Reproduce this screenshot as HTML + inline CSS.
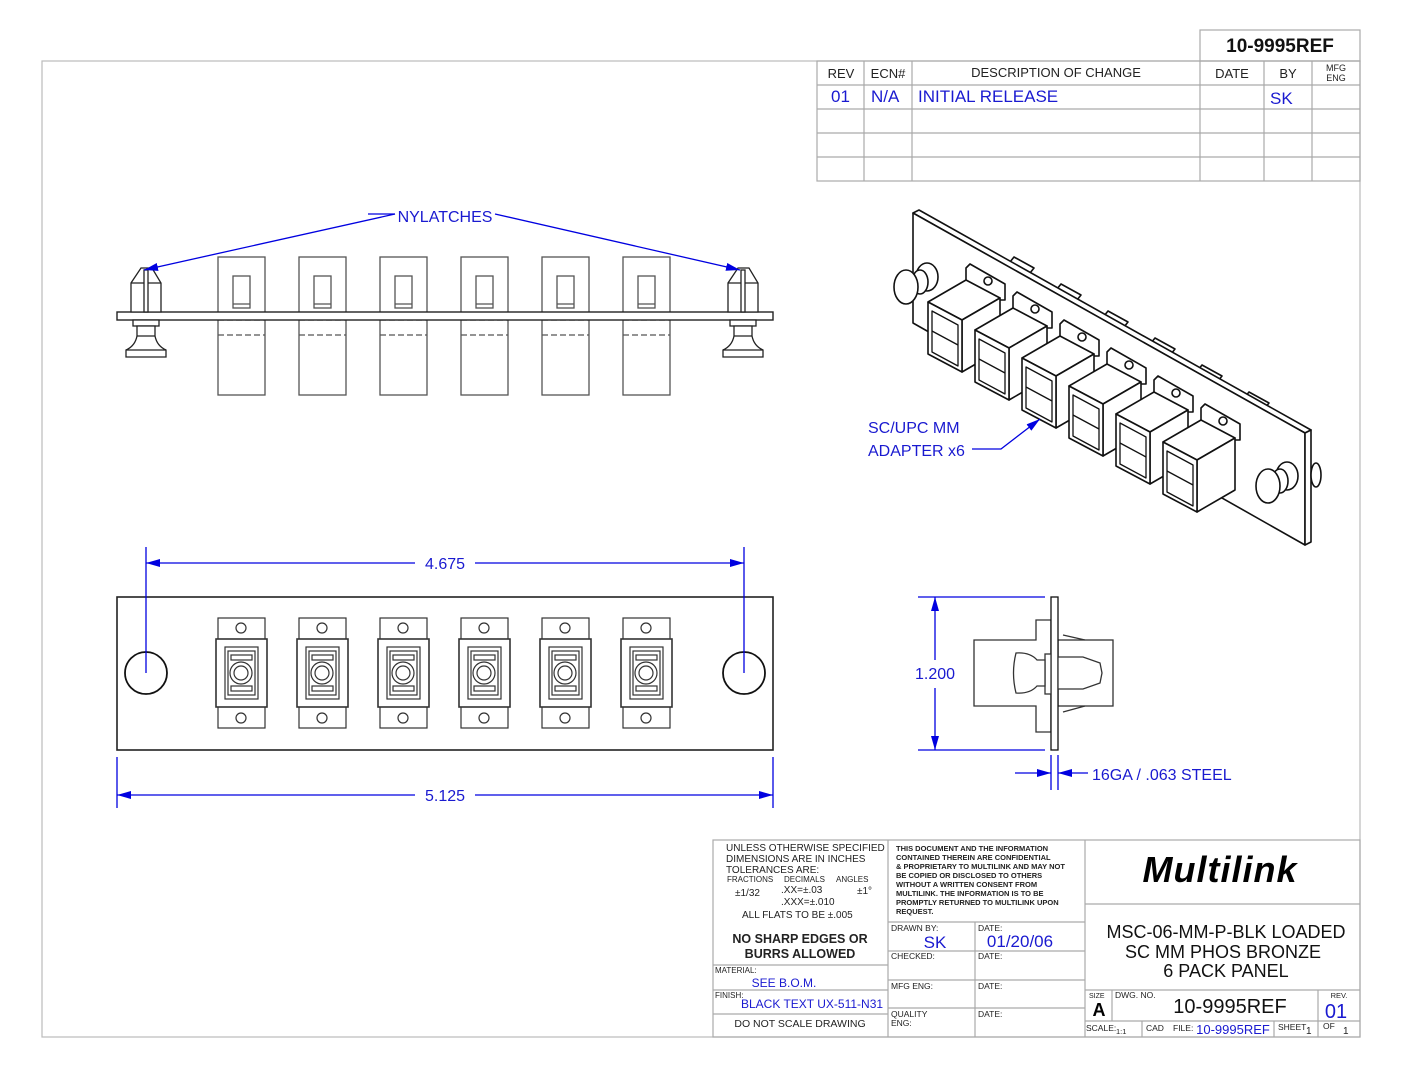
<!DOCTYPE html>
<html><head><meta charset="utf-8"><style>
html,body{margin:0;padding:0;background:#fff}
svg{display:block}
text{font-family:"Liberation Sans",sans-serif}
</style></head><body>
<svg width="1408" height="1088" viewBox="0 0 1408 1088" xmlns="http://www.w3.org/2000/svg">
<defs>
<marker id="ah" markerWidth="14" markerHeight="8" refX="14" refY="4" orient="auto" markerUnits="userSpaceOnUse"><path d="M0,0 L14,4 L0,8 z" fill="#0000e0"/></marker>
<g id="latch" fill="#fff" stroke="#222" stroke-width="1.3">
<path d="M141,268 L152,268 L161,283 L161,312 L131,312 L131,283 Z"/>
<line x1="131" y1="283" x2="161" y2="283"/>
<rect x="144" y="270" width="4" height="42"/>
<rect x="133" y="320" width="26" height="6"/>
<path d="M137,326 L155,326 L155,336 Q157,346 166,350 L166,357 L126,357 L126,350 Q135,346 137,336 Z"/>
<line x1="137" y1="336" x2="155" y2="336"/>
<line x1="126" y1="350" x2="166" y2="350"/>
</g>
<g id="topad" fill="none" stroke="#555" stroke-width="1.3">
<rect x="218" y="257" width="47" height="138"/>
<rect x="233" y="276" width="17" height="32"/>
<line x1="233" y1="304" x2="250" y2="304"/>
<line x1="218" y1="335" x2="265" y2="335" stroke-dasharray="6,3"/>
<line x1="218" y1="320" x2="265" y2="320" stroke-dasharray="6,3"/>
</g>
<g id="frad" fill="#fff" stroke="#333" stroke-width="1.2">
<rect x="218" y="618" width="47" height="110"/>
<rect x="216" y="639" width="51" height="68" stroke-width="1.6"/>
<rect x="225" y="647" width="33" height="52"/>
<rect x="228" y="651" width="27" height="44"/>
<rect x="231" y="655" width="21" height="5"/>
<rect x="231" y="686" width="21" height="5"/>
<circle cx="241" cy="673" r="11"/>
<circle cx="241" cy="673" r="7"/>
<circle cx="241" cy="628" r="5"/>
<circle cx="241" cy="718" r="5"/>
</g>
<g id="iso" fill="#fff" stroke="#111" stroke-width="1.6" stroke-linejoin="round">
<path d="M966,282 L966,268 L970,264 L1005,284 L1005,300 L1000,300 Z"/>
<circle cx="988" cy="281" r="4"/>
<path d="M928,302 L962,320 L1000,298 L966,280 Z"/>
<path d="M962,320 L1000,298 L1000,350 L962,372 Z"/>
<path d="M928,302 L962,320 L962,372 L928,354 Z"/>
<path d="M932,311 L958,325 L958,366 L932,352 Z" stroke-width="1.3"/>
<line x1="932" y1="331" x2="958" y2="345" stroke-width="1.3"/>
</g>
</defs>

<rect x="42" y="61" width="1318" height="976" fill="none" stroke="#bbb" stroke-width="1.2"/>

<g stroke="#aaa" stroke-width="1.2" fill="none">
<rect x="1200" y="30" width="160" height="31"/>
<rect x="817" y="61" width="543" height="120"/>
<line x1="817" y1="85" x2="1360" y2="85"/>
<line x1="817" y1="109" x2="1360" y2="109"/>
<line x1="817" y1="133" x2="1360" y2="133"/>
<line x1="817" y1="157" x2="1360" y2="157"/>
<line x1="864" y1="61" x2="864" y2="181"/>
<line x1="912" y1="61" x2="912" y2="181"/>
<line x1="1200" y1="61" x2="1200" y2="181"/>
<line x1="1264" y1="61" x2="1264" y2="181"/>
<line x1="1312" y1="61" x2="1312" y2="181"/>
</g>
<text x="1280" y="52" font-size="19" font-weight="bold" text-anchor="middle" fill="#111">10-9995REF</text>
<g font-size="13" fill="#222" text-anchor="middle">
<text x="841" y="78">REV</text><text x="888" y="78">ECN#</text>
<text x="1056" y="77">DESCRIPTION OF CHANGE</text>
<text x="1232" y="78">DATE</text><text x="1288" y="78">BY</text>
<text x="1336" y="71" font-size="9">MFG</text><text x="1336" y="81" font-size="9">ENG</text>
</g>
<g font-size="17" fill="#1a1ad0">
<text x="831" y="102">01</text><text x="871" y="102">N/A</text>
<text x="918" y="102">INITIAL RELEASE</text><text x="1270" y="104">SK</text>
</g>

<use href="#topad"/><use href="#topad" x="81"/><use href="#topad" x="162"/>
<use href="#topad" x="243"/><use href="#topad" x="324"/><use href="#topad" x="405"/>
<rect x="117" y="312" width="656" height="8" fill="#fff" stroke="#222" stroke-width="1.4"/>
<use href="#latch"/><use href="#latch" x="597"/>
<line x1="395" y1="214" x2="144" y2="270" stroke="#0000e0" stroke-width="1.3" marker-end="url(#ah)"/>
<line x1="495" y1="214" x2="740" y2="270" stroke="#0000e0" stroke-width="1.3" marker-end="url(#ah)"/>
<line x1="368" y1="214" x2="395" y2="214" stroke="#0000e0" stroke-width="1.3"/>
<text x="445" y="222" font-size="16" fill="#1a1ad0" text-anchor="middle">NYLATCHES</text>

<rect x="117" y="597" width="656" height="153" fill="#fff" stroke="#222" stroke-width="1.6"/>
<circle cx="146" cy="673" r="21" fill="#fff" stroke="#111" stroke-width="1.8"/>
<circle cx="744" cy="673" r="21" fill="#fff" stroke="#111" stroke-width="1.8"/>
<use href="#frad"/><use href="#frad" x="81"/><use href="#frad" x="162"/>
<use href="#frad" x="243"/><use href="#frad" x="324"/><use href="#frad" x="405"/>
<g stroke="#0000e0" stroke-width="1.3" fill="none">
<line x1="146" y1="547" x2="146" y2="673"/><line x1="744" y1="547" x2="744" y2="673"/>
<line x1="415" y1="563" x2="146" y2="563" marker-end="url(#ah)"/>
<line x1="475" y1="563" x2="744" y2="563" marker-end="url(#ah)"/>
<line x1="117" y1="757" x2="117" y2="808"/><line x1="773" y1="757" x2="773" y2="808"/>
<line x1="415" y1="795" x2="117" y2="795" marker-end="url(#ah)"/>
<line x1="475" y1="795" x2="773" y2="795" marker-end="url(#ah)"/>
</g>
<text x="445" y="569" font-size="16" fill="#1a1ad0" text-anchor="middle">4.675</text>
<text x="445" y="801" font-size="16" fill="#1a1ad0" text-anchor="middle">5.125</text>

<g fill="#fff" stroke="#333" stroke-width="1.3">
<path d="M974,640 L1036,640 L1036,620 L1051,620 L1051,732 L1036,732 L1036,706 L974,706 Z"/>
<rect x="1058" y="640" width="55" height="66"/>
<rect x="1051" y="597" width="7" height="153" stroke="#111"/>
<rect x="1045" y="654" width="6" height="40"/>
<path d="M1045,660 L1037,660 Q1030,652 1016,653 Q1011,673 1016,693 Q1030,694 1037,686 L1045,686 Z"/>
<path d="M1058,657 L1083,657 L1100,663 L1102,673 L1100,683 L1083,689 L1058,689 Z"/>
<path d="M1063,635 L1085,640 M1063,712 L1085,706" fill="none"/>
</g>
<g stroke="#0000e0" stroke-width="1.3" fill="none">
<line x1="918" y1="597" x2="1045" y2="597"/><line x1="918" y1="750" x2="1045" y2="750"/>
<line x1="935" y1="660" x2="935" y2="597" marker-end="url(#ah)"/>
<line x1="935" y1="688" x2="935" y2="750" marker-end="url(#ah)"/>
<line x1="1051" y1="755" x2="1051" y2="790"/><line x1="1058" y1="755" x2="1058" y2="790"/>
<line x1="1015" y1="773" x2="1051" y2="773" marker-end="url(#ah)"/>
<line x1="1088" y1="773" x2="1058" y2="773" marker-end="url(#ah)"/>
</g>
<text x="935" y="679" font-size="16" fill="#1a1ad0" text-anchor="middle">1.200</text>
<text x="1092" y="780" font-size="16" fill="#1a1ad0">16GA / .063 STEEL</text>

<g fill="#fff" stroke="#111" stroke-width="1.6" stroke-linejoin="round">
<path d="M1010,262 L1030,273 L1034,268 L1014,257 Z"/>
<path d="M1057,289 L1077,300 L1081,295 L1061,284 Z"/>
<path d="M1104,316 L1124,327 L1128,322 L1108,311 Z"/>
<path d="M1151,343 L1171,354 L1175,349 L1155,338 Z"/>
<path d="M1198,370 L1218,381 L1222,376 L1202,365 Z"/>
<path d="M1245,397 L1265,408 L1269,403 L1249,392 Z"/>
<path d="M913,213 L919,210 L1311,430 L1305,433 Z"/>
<path d="M913,213 L1305,433 L1305,545 L913,323 Z"/>
<path d="M1305,433 L1311,430 L1311,542 L1305,545 Z"/>
<ellipse cx="927" cy="277" rx="11" ry="14"/>
<ellipse cx="920" cy="282" rx="8" ry="12"/>
<ellipse cx="906" cy="287" rx="12" ry="17"/>
<ellipse cx="1316" cy="475" rx="5" ry="12"/>
<ellipse cx="1287" cy="476" rx="11" ry="14"/>
<ellipse cx="1280" cy="481" rx="8" ry="12"/>
<ellipse cx="1268" cy="486" rx="12" ry="17"/>
</g>
<use href="#iso"/><use href="#iso" x="47" y="28"/><use href="#iso" x="94" y="56"/>
<use href="#iso" x="141" y="84"/><use href="#iso" x="188" y="112"/><use href="#iso" x="235" y="140"/>
<polyline points="972,449 1001,449 1040,419" fill="none" stroke="#0000e0" stroke-width="1.3" marker-end="url(#ah)"/>
<text x="868" y="433" font-size="16" fill="#1a1ad0">SC/UPC MM</text>
<text x="868" y="456" font-size="16" fill="#1a1ad0">ADAPTER x6</text>

<g stroke="#aaa" stroke-width="1.2" fill="none">
<rect x="713" y="840" width="647" height="197"/>
<line x1="888" y1="840" x2="888" y2="1037"/>
<line x1="1085" y1="840" x2="1085" y2="1037"/>
<line x1="713" y1="965" x2="888" y2="965"/>
<line x1="713" y1="990" x2="888" y2="990"/>
<line x1="713" y1="1014" x2="888" y2="1014"/>
<line x1="888" y1="922" x2="1085" y2="922"/>
<line x1="888" y1="951" x2="1085" y2="951"/>
<line x1="888" y1="980" x2="1085" y2="980"/>
<line x1="888" y1="1008" x2="1085" y2="1008"/>
<line x1="975" y1="922" x2="975" y2="1037"/>
<line x1="1085" y1="904" x2="1360" y2="904"/>
<line x1="1085" y1="990" x2="1360" y2="990"/>
<line x1="1085" y1="1021" x2="1360" y2="1021"/>
<line x1="1112" y1="990" x2="1112" y2="1021"/>
<line x1="1318" y1="990" x2="1318" y2="1037"/>
<line x1="1142" y1="1021" x2="1142" y2="1037"/>
<line x1="1274" y1="1021" x2="1274" y2="1037"/>
</g>
<g font-size="10" fill="#222">
<text x="726" y="851">UNLESS OTHERWISE SPECIFIED</text>
<text x="726" y="862">DIMENSIONS ARE IN INCHES</text>
<text x="726" y="873">TOLERANCES ARE:</text>
<text x="727" y="882" font-size="8">FRACTIONS</text><text x="784" y="882" font-size="8">DECIMALS</text><text x="836" y="882" font-size="8">ANGLES</text>
<text x="735" y="896">±1/32</text><text x="781" y="893">.XX=±.03</text><text x="781" y="905">.XXX=±.010</text><text x="857" y="894">±1°</text>
<text x="742" y="918">ALL FLATS TO BE ±.005</text>
<text x="800" y="943" font-size="12.5" font-weight="bold" text-anchor="middle">NO SHARP EDGES OR</text>
<text x="800" y="958" font-size="12.5" font-weight="bold" text-anchor="middle">BURRS ALLOWED</text>
<text x="715" y="973" font-size="8">MATERIAL:</text>
<text x="715" y="998" font-size="8">FINISH:</text>
<text x="800" y="1027" text-anchor="middle" font-size="10.5">DO NOT SCALE DRAWING</text>
<g font-size="7.5" font-weight="bold">
<text x="896" y="851">THIS DOCUMENT AND THE INFORMATION</text>
<text x="896" y="860">CONTAINED THEREIN ARE CONFIDENTIAL</text>
<text x="896" y="869">&amp; PROPRIETARY TO MULTILINK AND MAY NOT</text>
<text x="896" y="878">BE COPIED OR DISCLOSED TO OTHERS</text>
<text x="896" y="887">WITHOUT A WRITTEN CONSENT FROM</text>
<text x="896" y="896">MULTILINK. THE INFORMATION IS TO BE</text>
<text x="896" y="905">PROMPTLY RETURNED TO MULTILINK UPON</text>
<text x="896" y="914">REQUEST.</text>
</g>
<g font-size="8.5">
<text x="891" y="931">DRAWN BY:</text><text x="978" y="931">DATE:</text>
<text x="891" y="959">CHECKED:</text><text x="978" y="959">DATE:</text>
<text x="891" y="989">MFG ENG:</text><text x="978" y="989">DATE:</text>
<text x="891" y="1017">QUALITY</text><text x="891" y="1026">ENG:</text><text x="978" y="1017">DATE:</text>
<text x="1089" y="998" font-size="7">SIZE</text><text x="1115" y="998">DWG. NO.</text>
<text x="1339" y="998" font-size="7.5" text-anchor="middle">REV.</text>
<text x="1086" y="1031">SCALE:</text><text x="1116" y="1034" font-size="7.5">1:1</text>
<text x="1146" y="1031">CAD</text><text x="1173" y="1031">FILE:</text>
<text x="1278" y="1030">SHEET</text><text x="1306" y="1034" font-size="10">1</text>
<text x="1323" y="1029">OF</text><text x="1343" y="1034" font-size="10">1</text>
</g>
</g>
<g fill="#1a1ad0">
<text x="784" y="987" font-size="12" text-anchor="middle">SEE B.O.M.</text>
<text x="741" y="1008" font-size="12">BLACK TEXT UX-511-N31</text>
<text x="935" y="948" font-size="17" text-anchor="middle">SK</text>
<text x="1020" y="947" font-size="17" text-anchor="middle">01/20/06</text>
<text x="1336" y="1018" font-size="20" text-anchor="middle">01</text>
<text x="1233" y="1034" font-size="13" text-anchor="middle">10-9995REF</text>
</g>
<text x="1220" y="882" font-size="36" font-weight="bold" font-style="italic" fill="#000" text-anchor="middle" letter-spacing="1">Multilink</text>
<g font-size="18" fill="#111" text-anchor="middle">
<text x="1226" y="938">MSC-06-MM-P-BLK LOADED</text>
<text x="1223" y="958">SC MM PHOS BRONZE</text>
<text x="1226" y="977">6 PACK PANEL</text>
<text x="1230" y="1013" font-size="20">10-9995REF</text>
</g>
<text x="1099" y="1016" font-size="18" font-weight="bold" fill="#000" text-anchor="middle">A</text>
</svg>
</body></html>
